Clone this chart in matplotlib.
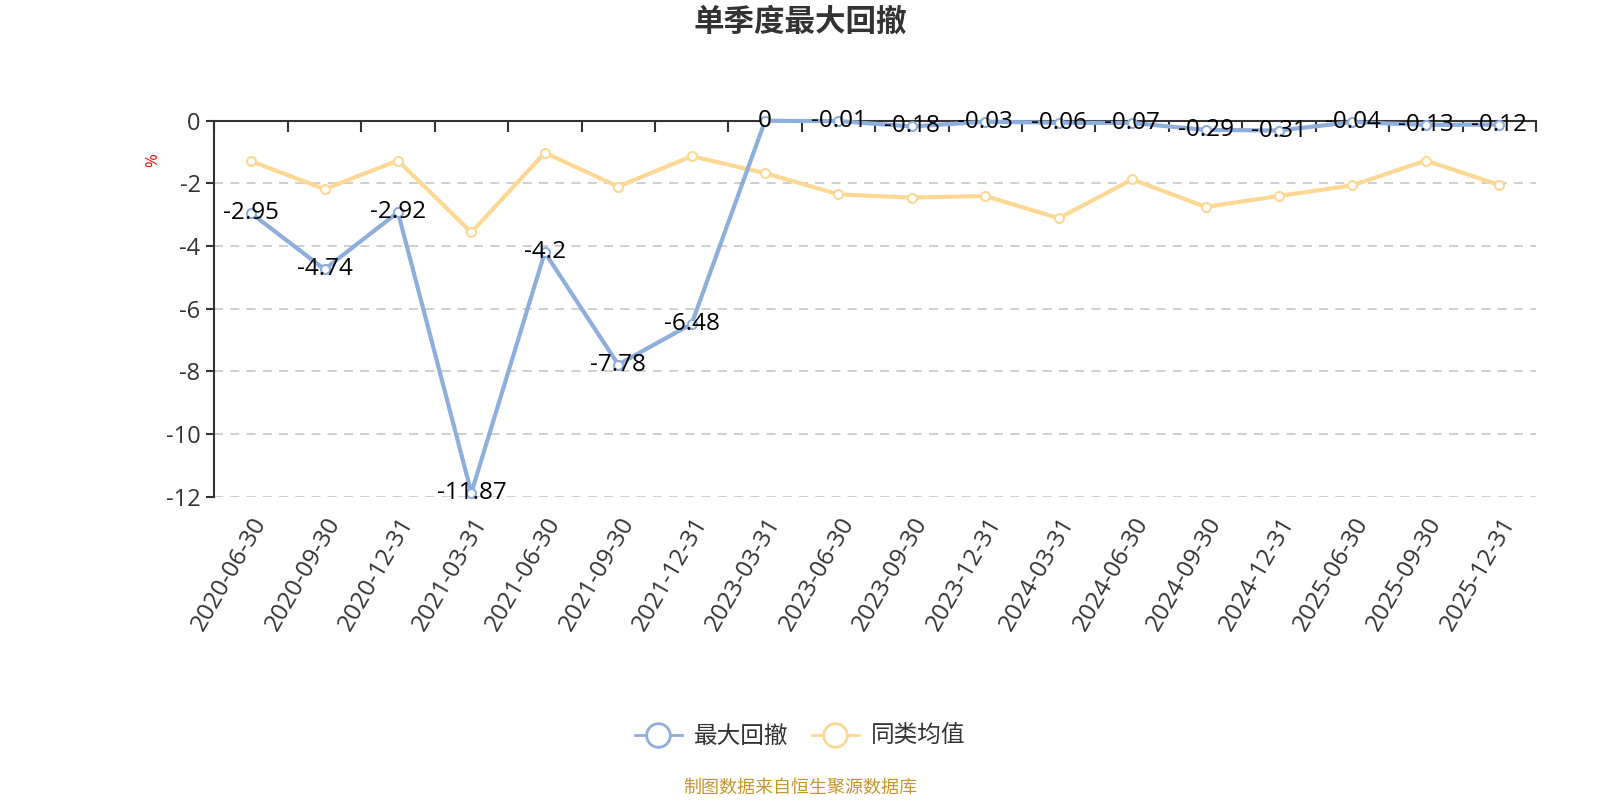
import matplotlib
matplotlib.use("Agg")
import matplotlib.pyplot as plt
from matplotlib.lines import Line2D
import numpy as np

plt.rcParams['font.family'] = ['Open Sans', 'Noto Sans CJK SC', 'DejaVu Sans']

# data
dates = ["2020-06-30", "2020-09-30", "2020-12-31", "2021-03-31", "2021-06-30",
         "2021-09-30", "2021-12-31", "2023-03-31", "2023-06-30", "2023-09-30",
         "2023-12-31", "2024-03-31", "2024-06-30", "2024-09-30", "2024-12-31",
         "2025-06-30", "2025-09-30", "2025-12-31"]
max_dd = [-2.95, -4.74, -2.92, -11.87, -4.2, -7.78, -6.48, 0, -0.01, -0.18,
          -0.03, -0.06, -0.07, -0.29, -0.31, -0.04, -0.13, -0.12]
peer_avg = [-1.29, -2.18, -1.27, -3.56, -1.02, -2.1, -1.13, -1.67, -2.35, -2.45,
            -2.40, -3.11, -1.87, -2.75, -2.40, -2.06, -1.27, -2.05]
y_ticks = [0, -2, -4, -6, -8, -10, -12]

blue = '#8eaedc'
orange = '#fdd895'
dark = '#333333'

fig = plt.figure(figsize=(16, 8), dpi=100)
ax = fig.add_axes([0.134, 0.379, 0.826, 0.470])

x = np.arange(len(dates))
ax.plot(x, peer_avg, color=orange, lw=3, marker='o', ms=6.5, mfc='white',
        mec=orange, mew=1.5, clip_on=False, zorder=3)
ax.plot(x, max_dd, color=blue, lw=3, marker='o', ms=6.5, mfc='white',
        mec=blue, mew=1.5, clip_on=False, zorder=4)

for xi, v in zip(x, max_dd):
    ax.annotate(f'{v:g}', (xi, v), xytext=(0, 0), textcoords='offset points',
                ha='center', va='center', fontsize=17.5, color='black', zorder=6,
                annotation_clip=False)

ax.set_xlim(-0.5, len(dates) - 0.5)
ax.set_ylim(-12, 0)
ax.set_yticks(y_ticks)
ax.set_yticklabels([str(t) for t in y_ticks])
ax.grid(axis='y', color='#cccccc', linestyle=(0, (5, 4)), lw=1.3)
ax.set_axisbelow(True)

for s in ['right', 'bottom']:
    ax.spines[s].set_visible(False)
ax.spines['left'].set_color(dark)
ax.spines['top'].set_color(dark)
ax.spines['left'].set_linewidth(1.5)
ax.spines['top'].set_linewidth(1.5)

ax.set_xticks(x)
ax.set_xticklabels(dates, rotation=60, ha='right', va='top', rotation_mode='anchor')
ax.set_xticks(np.arange(len(dates) + 1) - 0.5, minor=True)
ax.tick_params(axis='x', which='major', bottom=False, top=False, labelbottom=True,
               labelsize=17.5, labelcolor=dark, pad=8)
ax.tick_params(axis='x', which='minor', bottom=False, top=True, direction='in',
               length=8, width=1.5, color=dark)
ax.tick_params(axis='y', which='major', length=6, width=1.5, color=dark,
               labelsize=17, labelcolor=dark, pad=4)

ax.set_ylabel('%', color='red', fontsize=12)
ax.yaxis.set_label_coords(-0.04, 0.895)

fig.text(0.5, 0.972, '单季度最大回撤', ha='center', va='center', fontsize=22,
         fontweight='bold', color=dark)

handles = [Line2D([], [], color=blue, lw=2, marker='o', ms=17, mfc='white',
                  mec=blue, mew=2),
           Line2D([], [], color=orange, lw=2, marker='o', ms=17, mfc='white',
                  mec=orange, mew=2)]
leg = fig.legend(handles=handles, labels=['最大回撤', '同类均值'], loc='center',
                 bbox_to_anchor=(0.5, 0.079), ncol=2, frameon=False,
                 fontsize=17, handlelength=2.0, columnspacing=1.0,
                 handletextpad=0.5)
for t in leg.get_texts():
    t.set_color(dark)

fig.text(0.5, 0.015, '制图数据来自恒生聚源数据库', ha='center', va='center',
         fontsize=13, color='#c8962e')

fig.savefig('out.png', dpi=100)
